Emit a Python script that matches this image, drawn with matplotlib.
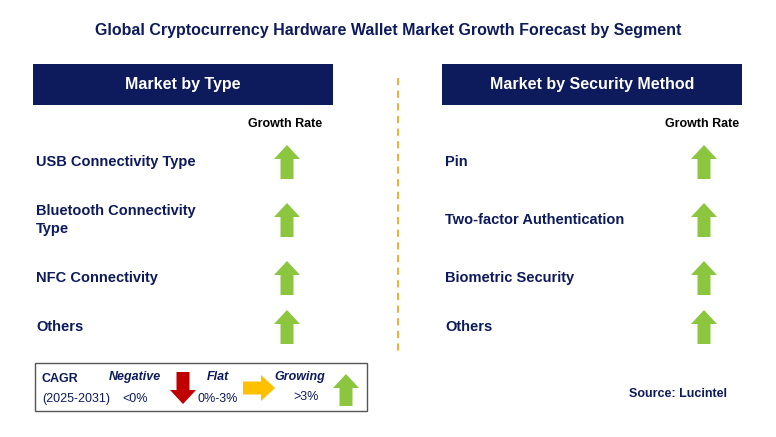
import matplotlib.pyplot as plt
from matplotlib.patches import Rectangle, Polygon

title = 'Global Cryptocurrency Hardware Wallet Market Growth Forecast by Segment'
type_labels = ['USB Connectivity Type', 'Bluetooth Connectivity\nType', 'NFC Connectivity', 'Others']
type_growth = ['up', 'up', 'up', 'up']
sec_labels = ['Pin', 'Two-factor Authentication', 'Biometric Security', 'Others']
sec_growth = ['up', 'up', 'up', 'up']
row_y = [162, 220, 278, 327]

NAVY = '#0d1a5c'
GREEN = '#8cc63f'
RED = '#c00000'
AMBER = '#ffc000'

plt.rcParams['font.family'] = 'Liberation Sans'
fig = plt.figure(figsize=(7.76, 4.37), dpi=100)
ax = fig.add_axes([0, 0, 1, 1])
ax.set_xlim(0, 776)
ax.set_ylim(437, 0)
ax.axis('off')


def arrow(cx, cy, d, color, w=13, hw=26, L=34, hl=14):
    # arrow centred at (cx, cy), pointing d
    h = L / 2
    if d == 'up':
        pts = [(cx - w/2, cy + h), (cx - w/2, cy - h + hl), (cx - hw/2, cy - h + hl), (cx, cy - h),
               (cx + hw/2, cy - h + hl), (cx + w/2, cy - h + hl), (cx + w/2, cy + h)]
    elif d == 'down':
        pts = [(cx - w/2, cy - h), (cx - w/2, cy + h - hl), (cx - hw/2, cy + h - hl), (cx, cy + h),
               (cx + hw/2, cy + h - hl), (cx + w/2, cy + h - hl), (cx + w/2, cy - h)]
    else:
        pts = [(cx - h, cy - w/2), (cx + h - hl, cy - w/2), (cx + h - hl, cy - hw/2), (cx + h, cy),
               (cx + h - hl, cy + hw/2), (cx + h - hl, cy + w/2), (cx - h, cy + w/2)]
    ax.add_patch(Polygon(pts, closed=True, color=color, lw=0))


ax.text(388, 30, title, ha='center', va='center', fontsize=11.5, fontweight='bold', color=NAVY)

for x0, head, labels, growth, ax_x in [(33, 'Market by Type', type_labels, type_growth, 287),
                                       (442, 'Market by Security Method', sec_labels, sec_growth, 704)]:
    ax.add_patch(Rectangle((x0, 64), 300, 41, color=NAVY, lw=0))
    ax.text(x0 + 150, 85, head, ha='center', va='center', fontsize=11.5, fontweight='bold', color='white')
    ax.text(ax_x - 2, 124, 'Growth Rate', ha='center', va='center', fontsize=9, fontweight='bold', color='black')
    for y, lab, g in zip(row_y, labels, growth):
        ax.text(x0 + 3, y, lab, ha='left', va='center', fontsize=10.5, fontweight='bold', color=NAVY,
                linespacing=1.4)
        arrow(ax_x, y, g, GREEN)

ax.plot([398, 398], [78, 352], ls=(0, (4, 3)), color='#f5a623', lw=1.3)

# legend box
ax.add_patch(Rectangle((35, 363), 332, 48, fill=False, ec='#555555', lw=1))
ax.text(42, 379, 'CAGR', fontsize=9, fontweight='bold', color=NAVY, va='center')
ax.text(42, 399, '(2025-2031)', fontsize=9, color=NAVY, va='center')
ax.text(135, 377, 'Negative', fontsize=9, fontweight='bold', style='italic', color=NAVY, ha='center', va='center')
ax.text(135, 399, '<0%', fontsize=9, color=NAVY, ha='center', va='center')
arrow(183, 388, 'down', RED, L=32)
ax.text(218, 377, 'Flat', fontsize=9, fontweight='bold', style='italic', color=NAVY, ha='center', va='center')
ax.text(218, 399, '0%-3%', fontsize=9, color=NAVY, ha='center', va='center')
arrow(259, 388, 'right', AMBER, L=32)
ax.text(300, 377, 'Growing', fontsize=9, fontweight='bold', style='italic', color=NAVY, ha='center', va='center')
ax.text(306, 397, '>3%', fontsize=9, color=NAVY, ha='center', va='center')
arrow(346, 390, 'up', GREEN, L=32)

ax.text(727, 394, 'Source: Lucintel', ha='right', va='center', fontsize=9, fontweight='bold', color=NAVY)

fig.savefig('out.png', dpi=100)
